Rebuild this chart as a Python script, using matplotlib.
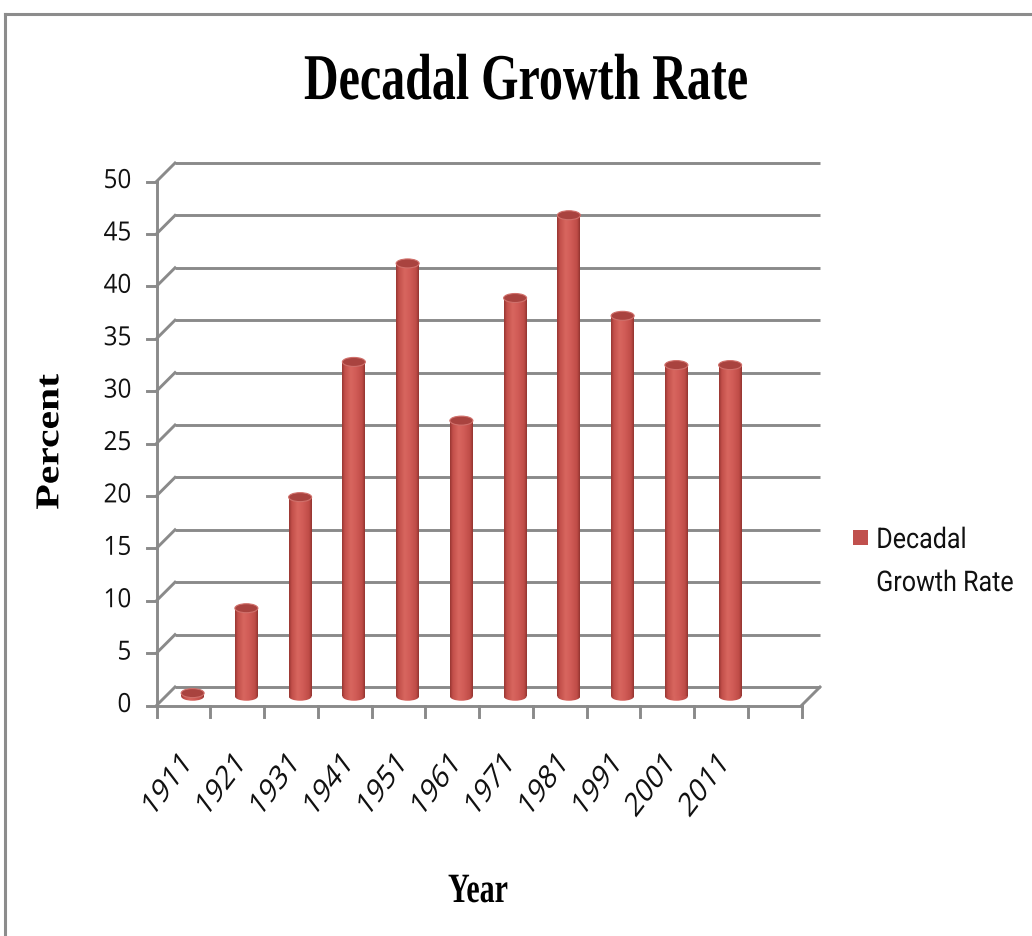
import matplotlib
matplotlib.use("Agg")
import matplotlib.pyplot as plt
import numpy as np
from matplotlib.patches import Ellipse, Rectangle
from matplotlib.lines import Line2D
from matplotlib.patheffects import AbstractPathEffect
from matplotlib.transforms import Affine2D
from matplotlib.colors import LinearSegmentedColormap

# ---- data -------------------------------------------------------------
years = ["1911", "1921", "1931", "1941", "1951", "1961",
         "1971", "1981", "1991", "2001", "2011"]
growth = [0.3, 8.4, 19.0, 31.9, 41.3, 26.3, 38.0, 45.9, 36.3, 31.6, 31.6]
y_ticks = [0, 5, 10, 15, 20, 25, 30, 35, 40, 45, 50]
n_slots = 12                      # category slots on the floor (one left empty)
chart_title = "Decadal Growth Rate"
series_lines = ["Decadal", "Growth Rate"]
x_title = "Year"
y_title = "Percent"

# ---- look -------------------------------------------------------------
W, H, DPI = 1032, 937, 100
GRID = "#8a8a8a"
BAR_TOP = "#a9433f"
BAR_RIM = "#d0706b"
LEGEND_RED = "#c0504d"
INK = "#111111"
SANS = ["Open Sans", "DejaVu Sans"]
LEGEND_SANS = ["Roboto", "DejaVu Sans"]
SERIF = ["Liberation Serif", "DejaVu Serif"]

# back wall geometry in pixels
X0, CAT = 175.0, 53.75           # left edge of back wall, pixels per category
Y0, UNIT = 688.0, 10.48          # zero line of back wall, pixels per percent
DEPTH = 18.5                     # depth of the floor, pixels


class Squeeze(AbstractPathEffect):
    """Draw text narrower in x, keeping one side (or the centre) fixed."""

    def __init__(self, sx, about="center"):
        super().__init__()
        self.sx = sx
        self.about = about

    def draw_path(self, renderer, gc, tpath, affine, rgbFace=None):
        ext = tpath.get_extents(affine)
        if self.about == "left":
            cx = ext.x0
        elif self.about == "right":
            cx = ext.x1
        else:
            cx = 0.5 * (ext.x0 + ext.x1)
        aff = affine + Affine2D().translate(-cx, 0).scale(self.sx, 1).translate(cx, 0)
        renderer.draw_path(gc, tpath, aff, rgbFace)


fig = plt.figure(figsize=(W / DPI, H / DPI), dpi=DPI)
fig.patch.set_facecolor("white")

# chart frame (top and left edges)
fig.add_artist(Line2D([5 / W, 1.0], [1 - 15 / H, 1 - 15 / H], color="#8c8c8c",
                      lw=2.2, transform=fig.transFigure))
fig.add_artist(Line2D([5 / W, 5 / W], [1 - 15 / H, 0.0], color="#8c8c8c",
                      lw=2.2, transform=fig.transFigure))

# axes placed so that data units map onto the back wall
xlo, xhi = -1.0, 12.6
ylo, yhi = -8.0, 51.0
ax = fig.add_axes([(X0 + xlo * CAT) / W,
                   1 - (Y0 - ylo * UNIT) / H,
                   (xhi - xlo) * CAT / W,
                   (yhi - ylo) * UNIT / H])
ax.set_xlim(xlo, xhi)
ax.set_ylim(ylo, yhi)
ax.axis("off")

DX = DEPTH / CAT
DY = DEPTH / UNIT
LW = 2.1

# back wall gridlines and the diagonals to the front axis
for t in y_ticks:
    ax.plot([0, n_slots], [t, t], color=GRID, lw=LW, solid_capstyle="butt", zorder=1)
    ax.plot([-DX, 0], [t - DY, t], color=GRID, lw=LW, zorder=1)
    ax.plot([-DX - 10 / CAT, -DX], [t - DY, t - DY], color=GRID, lw=LW, zorder=1)
    ax.text(-DX - 25 / CAT, t - DY, str(t), ha="right", va="center",
            fontsize=19, family=SANS, color=INK,
            path_effects=[Squeeze(0.92, "right")])

# front vertical axis, front floor edge, right floor diagonal
ax.plot([-DX, -DX], [-DY, y_ticks[-1] - DY], color=GRID, lw=LW, zorder=1)
ax.plot([-DX, n_slots - DX], [-DY, -DY], color=GRID, lw=LW, zorder=1)
ax.plot([n_slots - DX, n_slots], [-DY, 0], color=GRID, lw=LW, zorder=1)
for i in range(n_slots + 1):
    ax.plot([i - DX, i - DX], [-DY, -DY - 11 / UNIT], color=GRID, lw=LW, zorder=1)

# category labels, centred below-left of each slot
for i, yr in enumerate(years):
    ax.text(i + 0.5 - DX - 15 / CAT, -DY - 80 / UNIT, yr, rotation=45,
            rotation_mode="anchor", ha="center", va="center", fontsize=24,
            family=SANS, color=INK,
            path_effects=[Squeeze(0.76)])

# cylinders
shade = LinearSegmentedColormap.from_list(
    "cyl", [(0.0, "#973632"), (0.12, "#c24f4a"), (0.38, "#d8665f"),
            (0.6, "#d15c57"), (0.88, "#bf4c47"), (1.0, "#923430")])
grad = np.linspace(0, 1, 128).reshape(1, -1)
bw = 23.0 / CAT
eh = 9.0 / UNIT
base = -DY / 2
xc = np.arange(len(years)) + 0.5 - DX / 2
bars = ax.bar(xc, growth, width=bw, bottom=base, color=LEGEND_RED,
              linewidth=0, zorder=3)
for rect, v in zip(bars, growth):
    x0 = rect.get_x()
    im = ax.imshow(grad, extent=[x0, x0 + bw, base, base + v], cmap=shade,
                   aspect="auto", interpolation="bilinear", zorder=3.1)
    im.set_clip_path(rect)
    bottom_cap = Ellipse((x0 + bw / 2, base), bw, eh, facecolor="none",
                         edgecolor="none", zorder=3.0)
    ax.add_patch(bottom_cap)
    im2 = ax.imshow(grad, extent=[x0, x0 + bw, base - eh / 2, base + eh / 2],
                    cmap=shade, aspect="auto", interpolation="bilinear", zorder=3.0)
    im2.set_clip_path(bottom_cap)
    ax.add_patch(Ellipse((x0 + bw / 2, base + v), bw, eh, facecolor=BAR_TOP,
                         edgecolor=BAR_RIM, lw=0.8, zorder=3.3))
ax.set_xlim(xlo, xhi)
ax.set_ylim(ylo, yhi)

# titles
fig.text(526 / W, 1 - 100 / H, chart_title, ha="center", va="baseline",
         fontsize=47, fontweight="bold", family=SERIF,
         path_effects=[Squeeze(0.735)])
fig.text(478 / W, 1 - 903 / H, x_title, ha="center", va="baseline",
         fontsize=30, fontweight="bold", family=SERIF,
         path_effects=[Squeeze(0.72)])
fig.text(51 / W, 1 - 443 / H, y_title, ha="center", va="center", rotation=90,
         fontsize=30, fontweight="bold", family=SERIF,
         path_effects=[Squeeze(0.8)])

# legend: swatch plus a two-line series name
fig.add_artist(Rectangle((853 / W, 1 - 546 / H), 15 / W, 15 / H,
                         facecolor=LEGEND_RED, edgecolor="none",
                         transform=fig.transFigure))
for k, line in enumerate(series_lines):
    fig.text(876 / W, 1 - (549 + 43 * k) / H, line, ha="left", va="baseline",
             fontsize=20.5, family=LEGEND_SANS, color=INK,
             path_effects=[Squeeze(0.88, "left")])

fig.savefig("out.png", dpi=DPI)
